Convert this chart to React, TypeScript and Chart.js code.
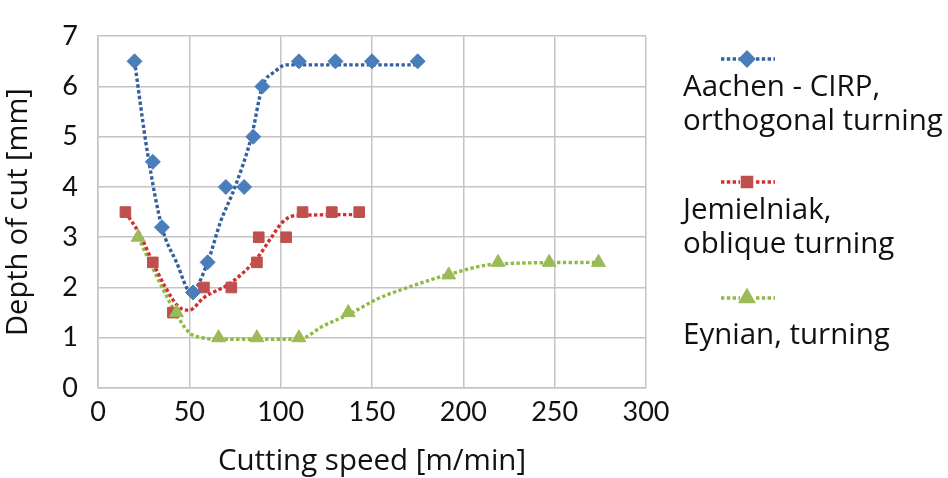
import React, { useEffect, useRef } from "react";
import { Chart, registerables } from "chart.js";
import { drawPoint } from "chart.js/helpers";

Chart.register(...registerables);

// ---- data ----
const aachenSpeed = [20, 30, 35, 52, 60, 70, 80, 85, 90, 110, 130, 150, 175];
const aachenDepth = [6.5, 4.5, 3.2, 1.9, 2.5, 4, 4, 5, 6, 6.5, 6.5, 6.5, 6.5];
const jemSpeed = [15, 30, 41, 58, 73, 87, 88, 103, 112, 128, 143];
const jemDepth = [3.5, 2.5, 1.5, 2, 2, 2.5, 3, 3, 3.5, 3.5, 3.5];
const eynSpeed = [22, 43, 66, 87, 110, 137, 192, 219, 247, 274];
const eynDepth = [3, 1.5, 1, 1, 1, 1.5, 2.25, 2.5, 2.5, 2.5];

// dotted trend curves as drawn in the picture
const aachenFitSpeed = [20, 27, 35, 43, 51, 60, 67, 75, 84, 90, 97, 103, 175];
const aachenFitDepth = [6.5, 4.7, 3.2, 2.5, 1.9, 2.5, 3.3, 4.0, 5.0, 6.0, 6.3, 6.43, 6.43];
const jemFitSpeed = [15, 23, 30, 37, 44, 50, 58, 73, 87, 95, 101, 108, 143];
const jemFitDepth = [3.5, 3.05, 2.5, 2.0, 1.62, 1.55, 1.8, 2.1, 2.58, 3.0, 3.3, 3.43, 3.45];
const eynFitSpeed = [22, 32, 43, 50, 57, 66, 110, 123, 137, 154, 168, 192, 219, 274];
const eynFitDepth = [3, 2.23, 1.46, 1.1, 1.0, 0.97, 0.97, 1.23, 1.46, 1.79, 1.98, 2.26, 2.47, 2.5];

const xMin = 0, xMax = 300, xStep = 50;
const yMin = 0, yMax = 7, yStep = 1;

const xTitle = "Cutting speed [m/min]";
const yTitle = "Depth of cut [mm]";
const legendLabels = [
  ["Aachen - CIRP,", "orthogonal turning"],
  ["Jemielniak,", "oblique turning"],
  ["Eynian, turning"],
];

// ---- styles ----
const TICK_FONT = "Lato, 'Open Sans', sans-serif";
const TEXT_FONT = "'Open Sans', Lato, sans-serif";
const markerColors = ["#4a7ebb", "#c0504d", "#9bbb59"];
const lineColors = ["#355f9f", "#d42f2e", "#8fbb44"];
const markerStyles = ["rectRot", "rect", "triangle"];
const markerRadii = [7.5, 7.5, 8];
const gridColor = "#c4c4c4";
const textColor = "#111111";
const DASH = [3.4, 2.4];
const LINE_W = 3.4;

const legendSampleY = [59, 182, 298];
const legendTextTop = [68, 191, 316];

const toPts = (xs: number[], ys: number[]) => xs.map((x, i) => ({ x, y: ys[i] }));

const legendSamples = {
  id: "legendSamples",
  afterDraw(chart: any) {
    const ctx = chart.ctx as CanvasRenderingContext2D;
    legendSampleY.forEach((y, i) => {
      ctx.save();
      ctx.strokeStyle = lineColors[i];
      ctx.lineWidth = LINE_W;
      ctx.lineCap = "butt";
      ctx.setLineDash(DASH);
      ctx.beginPath();
      ctx.moveTo(721, y);
      ctx.lineTo(740, y);
      ctx.moveTo(756, y);
      ctx.lineTo(775, y);
      ctx.stroke();
      ctx.setLineDash([]);
      ctx.fillStyle = markerColors[i];
      ctx.strokeStyle = markerColors[i];
      drawPoint(ctx, { pointStyle: markerStyles[i], radius: markerRadii[i] - 1, rotation: 0, borderWidth: 1 } as any, 747, y);
      ctx.restore();
    });
  },
};

export default function App() {
  const ref = useRef<HTMLCanvasElement>(null);
  useEffect(() => {
    if (!ref.current) return;
    const markerSet = (label: string, xs: number[], ys: number[], i: number) => ({
      label,
      data: toPts(xs, ys),
      showLine: false,
      pointStyle: markerStyles[i],
      pointRadius: markerRadii[i],
      backgroundColor: markerColors[i],
      borderColor: markerColors[i],
      borderWidth: 1,
    });
    const lineSet = (label: string, xs: number[], ys: number[], i: number) => ({
      label,
      data: toPts(xs, ys),
      showLine: true,
      pointRadius: 0,
      borderColor: lineColors[i],
      borderWidth: LINE_W,
      borderDash: DASH,
      borderCapStyle: "butt",
      cubicInterpolationMode: "monotone",
      fill: false,
    });
    const chart = new Chart(ref.current, {
      type: "scatter",
      data: {
        datasets: [
          markerSet("Eynian", eynSpeed, eynDepth, 2),
          markerSet("Aachen", aachenSpeed, aachenDepth, 0),
          markerSet("Jemielniak", jemSpeed, jemDepth, 1),
          lineSet("Aachen fit", aachenFitSpeed, aachenFitDepth, 0),
          lineSet("Jemielniak fit", jemFitSpeed, jemFitDepth, 1),
          lineSet("Eynian fit", eynFitSpeed, eynFitDepth, 2),
        ] as any,
      },
      options: {
        animation: false,
        responsive: false,
        devicePixelRatio: 1,
        layout: { padding: { top: 17, right: 302, left: 0, bottom: 0 } },
        plugins: { legend: { display: false }, tooltip: { enabled: false } },
        scales: {
          x: {
            type: "linear",
            min: xMin,
            max: xMax,
            ticks: { stepSize: xStep, padding: 8, color: textColor, font: { family: TICK_FONT, size: 27 } },
            grid: { color: gridColor, lineWidth: 1.5, drawTicks: false },
            border: { color: gridColor, width: 1.5 },
            title: {
              display: true,
              text: xTitle,
              color: textColor,
              font: { family: TEXT_FONT, size: 29.5, lineHeight: 1 },
              padding: { top: 0, bottom: 2 },
            },
            afterFit(s: any) { s.height = 90; },
          },
          y: {
            type: "linear",
            min: yMin,
            max: yMax,
            ticks: { stepSize: yStep, padding: 20, color: textColor, font: { family: TICK_FONT, size: 27 } },
            grid: { color: gridColor, lineWidth: 1.5, drawTicks: false },
            border: { color: gridColor, width: 1.5 },
            title: {
              display: true,
              text: yTitle,
              color: textColor,
              font: { family: TEXT_FONT, size: 29, lineHeight: 1 },
              padding: { top: 4, bottom: 0 },
            },
            afterFit(s: any) { s.width = 98; },
          },
        },
      } as any,
      plugins: [legendSamples],
    });
    return () => chart.destroy();
  }, []);

  return (
    <div style={{ position: "fixed", left: 0, top: 0, width: 948, height: 478, background: "#fff", overflow: "hidden" }}>
      <canvas ref={ref} width={948} height={478} style={{ position: "absolute", left: 0, top: 0 }} />
      {legendLabels.map((lines, i) => (
        <div
          key={i}
          style={{
            position: "absolute",
            left: 683,
            top: legendTextTop[i],
            fontFamily: TEXT_FONT,
            fontSize: 29.5,
            lineHeight: "33.5px",
            color: textColor,
            whiteSpace: "nowrap",
          }}
        >
          {lines.map((t, j) => (
            <div key={j}>{t}</div>
          ))}
        </div>
      ))}
    </div>
  );
}
